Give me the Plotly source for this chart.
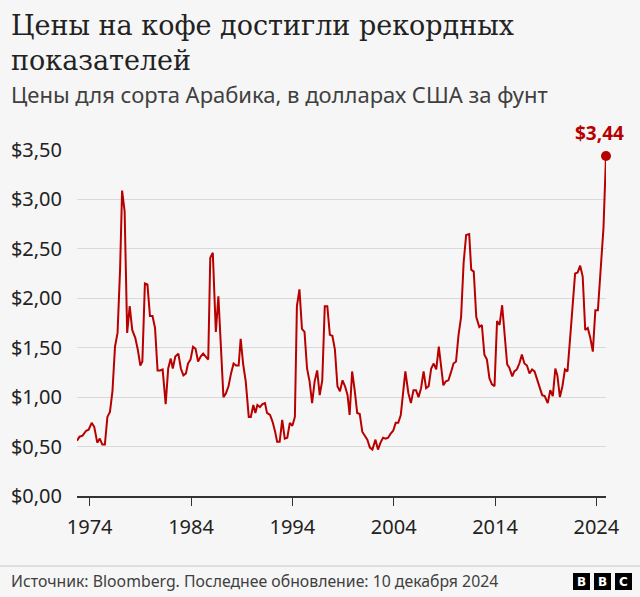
import plotly.graph_objects as go

years = [1972.75, 1973.0, 1973.3, 1973.65, 1973.9, 1974.2, 1974.45, 1974.75, 1975.0, 1975.25,
         1975.5, 1975.75, 1976.0, 1976.25, 1976.5, 1976.75, 1977.0, 1977.2, 1977.45, 1977.7,
         1977.95, 1978.2, 1978.5, 1978.75, 1979.0, 1979.2, 1979.45, 1979.7, 1979.95, 1980.2,
         1980.45, 1980.7, 1980.95, 1981.2, 1981.5, 1981.75, 1982.0, 1982.2, 1982.45, 1982.75,
         1983.0, 1983.25, 1983.5, 1983.7, 1983.95, 1984.2, 1984.45, 1984.7, 1984.95, 1985.2,
         1985.45, 1985.7, 1985.9, 1986.15, 1986.45, 1986.7, 1986.95, 1987.2, 1987.45, 1987.7,
         1987.95, 1988.2, 1988.45, 1988.7, 1988.9, 1989.15, 1989.4, 1989.7, 1989.9, 1990.15,
         1990.35, 1990.55, 1990.8, 1991.05, 1991.3, 1991.5, 1991.8, 1992.05, 1992.3, 1992.5,
         1992.75, 1993.0, 1993.25, 1993.5, 1993.75, 1994.0, 1994.25, 1994.45, 1994.7, 1994.95,
         1995.2, 1995.45, 1995.7, 1995.95, 1996.2, 1996.45, 1996.7, 1996.95, 1997.2, 1997.45,
         1997.7, 1997.95, 1998.2, 1998.45, 1998.7, 1998.95, 1999.2, 1999.45, 1999.65, 1999.9,
         2000.15, 2000.4, 2000.65, 2000.9, 2001.15, 2001.4, 2001.65, 2001.9, 2002.2, 2002.45,
         2002.7, 2002.95, 2003.2, 2003.45, 2003.7, 2003.95, 2004.2, 2004.45, 2004.7, 2004.9,
         2005.15, 2005.45, 2005.7, 2005.95, 2006.2, 2006.45, 2006.7, 2006.95, 2007.2, 2007.45,
         2007.7, 2007.95, 2008.2, 2008.45, 2008.7, 2008.9, 2009.15, 2009.4, 2009.65, 2009.9,
         2010.15, 2010.4, 2010.65, 2010.9, 2011.15, 2011.45, 2011.65, 2011.9, 2012.15, 2012.45,
         2012.7, 2012.95, 2013.2, 2013.45, 2013.7, 2013.95, 2014.2, 2014.45, 2014.7, 2014.95,
         2015.2, 2015.4, 2015.7, 2015.9, 2016.15, 2016.4, 2016.65, 2016.9, 2017.15, 2017.4,
         2017.65, 2017.9, 2018.1, 2018.4, 2018.65, 2018.9, 2019.2, 2019.45, 2019.7, 2019.95,
         2020.15, 2020.4, 2020.65, 2020.9, 2021.15, 2021.45, 2021.9, 2022.15, 2022.4, 2022.65,
         2022.9, 2023.15, 2023.4, 2023.65, 2023.9, 2024.15, 2024.45, 2024.7, 2024.95]

prices = [0.56, 0.60, 0.61, 0.66, 0.67, 0.74, 0.70, 0.54, 0.58, 0.52,
          0.52, 0.80, 0.85, 1.06, 1.51, 1.65, 2.29, 3.09, 2.88, 1.65,
          1.92, 1.68, 1.60, 1.48, 1.32, 1.36, 2.15, 2.14, 1.82, 1.82,
          1.70, 1.27, 1.27, 1.28, 0.93, 1.29, 1.39, 1.29, 1.41, 1.44,
          1.29, 1.22, 1.24, 1.34, 1.38, 1.51, 1.49, 1.36, 1.41, 1.44,
          1.41, 1.38, 2.41, 2.46, 1.66, 2.02, 1.51, 1.00, 1.04, 1.11,
          1.24, 1.34, 1.32, 1.32, 1.59, 1.33, 1.16, 0.80, 0.80, 0.92,
          0.84, 0.92, 0.90, 0.93, 0.94, 0.84, 0.82, 0.75, 0.65, 0.55,
          0.55, 0.77, 0.58, 0.59, 0.74, 0.71, 0.80, 1.92, 2.09, 1.69,
          1.66, 1.29, 1.16, 0.94, 1.16, 1.27, 1.02, 1.17, 1.92, 1.92,
          1.63, 1.62, 1.48, 1.11, 1.06, 1.17, 1.11, 1.02, 0.82, 1.26,
          1.07, 0.84, 0.83, 0.65, 0.61, 0.57, 0.49, 0.47, 0.57, 0.47,
          0.54, 0.59, 0.58, 0.59, 0.63, 0.66, 0.74, 0.74, 0.82, 0.99,
          1.26, 1.04, 0.94, 1.07, 1.07, 1.00, 1.09, 1.26, 1.09, 1.11,
          1.29, 1.34, 1.28, 1.51, 1.31, 1.12, 1.16, 1.17, 1.25, 1.34,
          1.36, 1.63, 1.81, 2.36, 2.64, 2.65, 2.29, 2.27, 1.81, 1.71,
          1.73, 1.43, 1.38, 1.19, 1.13, 1.11, 1.77, 1.73, 1.93, 1.65,
          1.33, 1.30, 1.21, 1.26, 1.28, 1.34, 1.43, 1.34, 1.32, 1.24,
          1.28, 1.26, 1.19, 1.11, 1.02, 1.01, 0.94, 1.07, 1.01, 1.29,
          1.22, 1.00, 1.11, 1.28, 1.26, 1.65, 2.25, 2.26, 2.33, 2.22,
          1.68, 1.70, 1.60, 1.46, 1.88, 1.88, 2.32, 2.71, 3.44]

y_ticks = [0, 0.5, 1.0, 1.5, 2.0, 2.5, 3.0, 3.5]
y_tick_labels = ["$0,00", "$0,50", "$1,00", "$1,50", "$2,00", "$2,50", "$3,00", "$3,50"]
x_ticks = [1974, 1984, 1994, 2004, 2014, 2024]
x_tick_labels = ["1974", "1984", "1994", "2004", "2014", "2024"]
last_label = "$3,44"

title_lines = ["Цены на кофе достигли рекордных", "показателей"]
subtitle = "Цены для сорта Арабика, в долларах США за фунт"
source = "Источник: Bloomberg. Последнее обновление: 10 декабря 2024"

RED = "#b80000"
BG = "#f6f6f6"
W, H = 640, 597
L, R, T, B = 77, 606, 150, 496  # plot area in pixels


def px(x):
    return (x - L) / (R - L)


def py(y):
    return (B - y) / (B - T)


fig = go.Figure()
fig.add_trace(go.Scatter(x=years, y=prices, mode="lines",
                         line=dict(color=RED, width=2), hoverinfo="skip",
                         cliponaxis=False))
fig.add_trace(go.Scatter(x=[years[-1]], y=[prices[-1]], mode="markers",
                         marker=dict(color=RED, size=10),
                         cliponaxis=False, hoverinfo="skip"))

annotations = [
    dict(text=last_label, x=years[-1], y=prices[-1], xref="x", yref="y",
         xanchor="center", yanchor="middle", xshift=-7, yshift=23, showarrow=False,
         font=dict(family="Noto Sans", size=19, color=RED, weight="bold")),
    dict(text="<br>".join(title_lines), x=px(9), y=py(8), xref="paper", yref="paper",
         xanchor="left", yanchor="top", align="left", showarrow=False,
         font=dict(family="DejaVu Serif", size=27, color="#222222")),
    dict(text=subtitle, x=px(9), y=py(77), xref="paper", yref="paper",
         xanchor="left", yanchor="top", align="left", showarrow=False,
         font=dict(family="Noto Sans", size=22, color="#404040")),
    dict(text=source, x=px(9), y=py(581), xref="paper", yref="paper",
         xanchor="left", yanchor="middle", align="left", showarrow=False,
         font=dict(family="Noto Sans", size=15.8, color="#404040")),
]
shapes = [
    dict(type="line", xref="paper", yref="paper", x0=px(0), x1=px(640), y0=py(566), y1=py(566),
         line=dict(color="#c8c8c8", width=1)),
]
for i, letter in enumerate(["B", "B", "C"]):
    x0 = 573 + i * 21
    shapes.append(dict(type="rect", xref="paper", yref="paper", x0=px(x0), x1=px(x0 + 17),
                       y0=py(573), y1=py(590), fillcolor="#000000", line=dict(width=0)))
    annotations.append(dict(text=letter, x=px(x0 + 8.5), y=py(581.5), xref="paper", yref="paper",
                            xanchor="center", yanchor="middle", showarrow=False,
                            font=dict(family="DejaVu Sans", size=12, color="#ffffff", weight="bold")))

fig.update_layout(
    width=W, height=H,
    margin=dict(l=L, r=W - R, t=T, b=H - B),
    paper_bgcolor=BG, plot_bgcolor=BG,
    showlegend=False,
    annotations=annotations, shapes=shapes,
    xaxis=dict(range=[years[0], years[-1]], tickmode="array", tickvals=x_ticks,
               ticktext=x_tick_labels, showgrid=False, zeroline=False,
               showline=True, linecolor="#333333", linewidth=2,
               ticks="outside", ticklen=8, tickcolor="#333333", tickwidth=1,
               ticklabelstandoff=4,
               tickfont=dict(family="Noto Sans", size=20, color="#222222"), fixedrange=True),
    yaxis=dict(range=[0, 3.5], tickmode="array", tickvals=y_ticks, ticktext=y_tick_labels,
               showgrid=True, gridcolor="#d9d9d9", gridwidth=1, zeroline=False,
               showline=False, ticks="", ticklabelstandoff=14,
               tickfont=dict(family="Noto Sans", size=20, color="#222222"), fixedrange=True),
)

fig.write_html("out.html", config={"displayModeBar": False},
               post_script="document.body.style.margin='0';")
